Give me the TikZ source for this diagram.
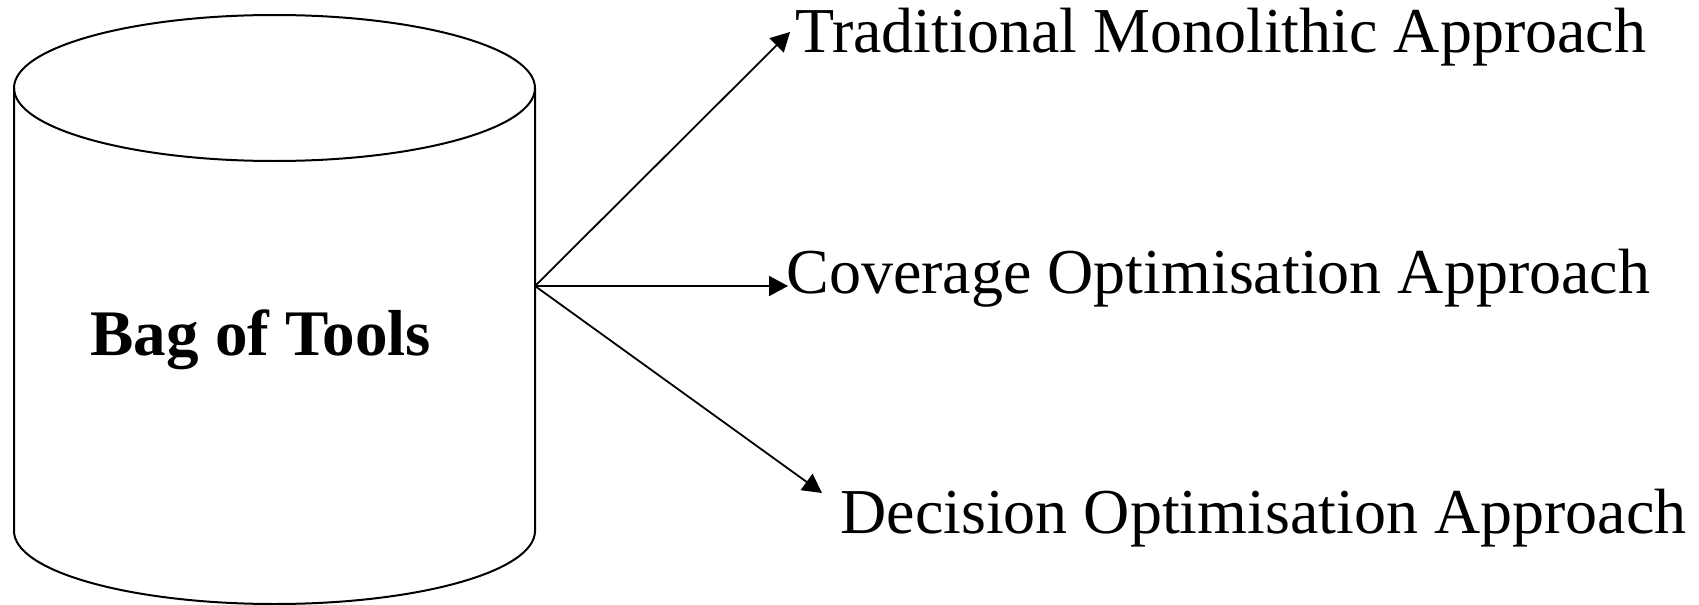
\documentclass[tikz,border=0pt]{standalone}
\usepackage{fontspec}
\setmainfont{Liberation Serif}
\usetikzlibrary{arrows.meta}
\begin{document}
\begin{tikzpicture}[x=0.5pt,y=-0.5pt,
  outline/.style={line width=1pt,black},
  link/.style={line width=0.9pt,-{Triangle[length=9.5pt,width=10pt]}},
  apptext/.style={anchor=base west,inner sep=0pt,font=\fontsize{32}{36}\selectfont},
]
\useasboundingbox (0,0) rectangle (1699,605);
% the cylinder: top ellipse, sides and lower rim
\draw[outline] (274.5,88) ellipse [x radius=260.5, y radius=73];
\draw[outline] (14,88) -- (14,531)
  arc[start angle=180, end angle=0, x radius=260.5, y radius=73] -- (535,88);
\node[apptext, font=\fontsize{32.5}{36}\selectfont\bfseries] (bag) at (90,355) {Bag of Tools};
\coordinate (src) at (535,286);
% the three approaches
\node[apptext] (trad) at (795,53) {Traditional Monolithic Approach};
\node[apptext] (cov) at (786,293) {Coverage Optimisation Approach};
\node[apptext] (dec) at (840,533) {Decision Optimisation Approach};
\coordinate (tipA) at (790,32);
\coordinate (tipB) at (788,286);
\coordinate (tipC) at (822,493);
\draw[link] (src) -- (tipA);
\draw[link] (src) -- (tipB);
\draw[link] (src) -- (tipC);
\end{tikzpicture}
\end{document}
